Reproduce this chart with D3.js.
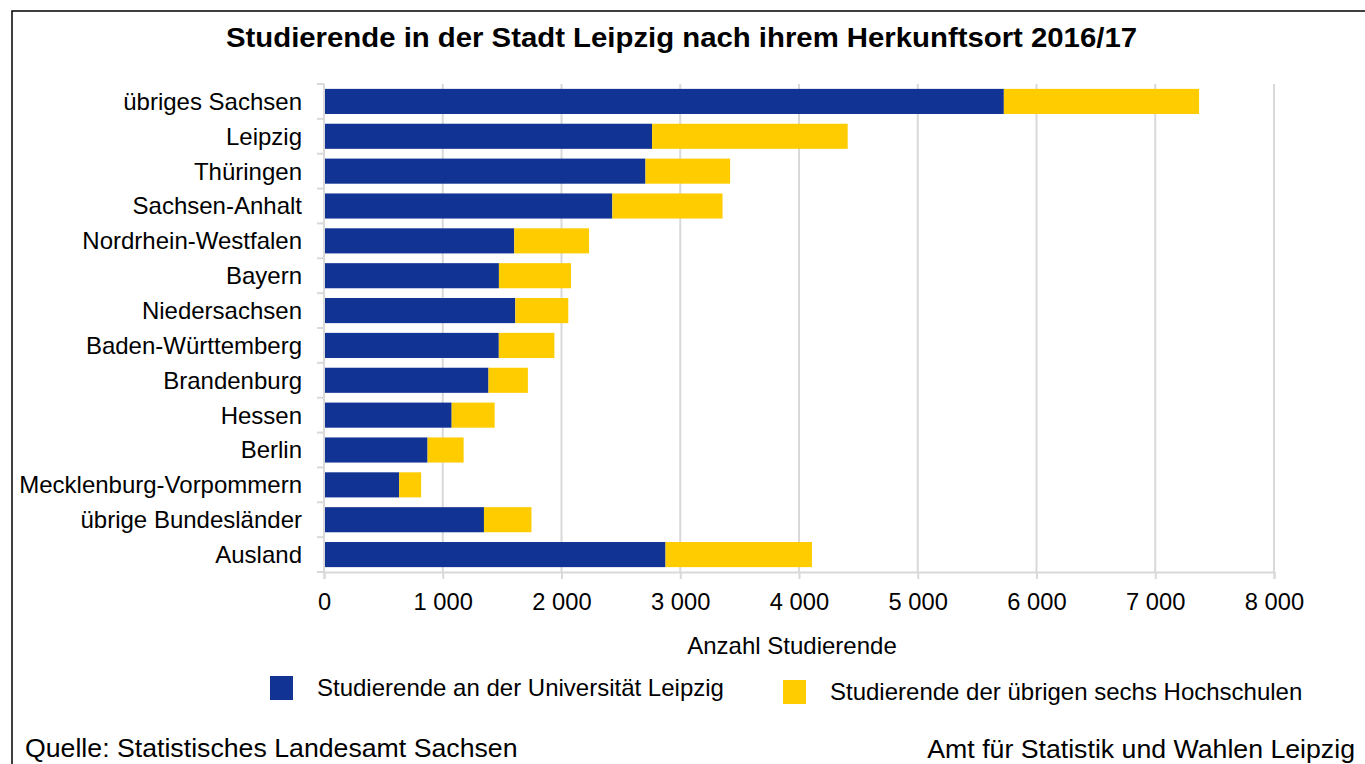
<!DOCTYPE html>
<html>
<head>
<meta charset="utf-8">
<script src="https://cdn.jsdelivr.net/npm/d3@7"></script>
<style>
  body { margin: 0; background: #fff; }
  svg text { font-family: "Liberation Sans", Arial, sans-serif; fill: #000; }
</style>
</head>
<body>
<div class="chart"></div>
<script>
const w = 1365;
const h = 764;

const regions = ["übriges Sachsen", "Leipzig", "Thüringen", "Sachsen-Anhalt", "Nordrhein-Westfalen",
  "Bayern", "Niedersachsen", "Baden-Württemberg", "Brandenburg", "Hessen", "Berlin",
  "Mecklenburg-Vorpommern", "übrige Bundesländer", "Ausland"];
const uniLeipzig = [5725, 2763, 2707, 2428, 1602, 1473, 1611, 1472, 1385, 1075, 872, 633, 1347, 2876];
const otherSchools = [1644, 1647, 713, 928, 630, 607, 446, 468, 332, 362, 304, 185, 400, 1233];
const xTicks = [0, 1000, 2000, 3000, 4000, 5000, 6000, 7000, 8000];
const seriesNames = ["Studierende an der Universität Leipzig", "Studierende der übrigen sechs Hochschulen"];
const colors = ["#103394", "#ffcc00"];

const margin = {left: 324, right: 91, top: 84, bottom: 192};

const svg = d3.select(".chart")
  .append("svg")
  .attr("width", w)
  .attr("height", h);

// frame
svg.append("path")
  .attr("d", `M12,${h + 2} L12,11 L${w + 2},11`)
  .attr("fill", "none")
  .attr("stroke", "#000")
  .attr("stroke-width", 1.5);

svg.append("text")
  .attr("x", 226)
  .attr("y", 47)
  .attr("textLength", 911)
  .attr("lengthAdjust", "spacingAndGlyphs")
  .style("font-size", "28px")
  .style("font-weight", "bold")
  .text("Studierende in der Stadt Leipzig nach ihrem Herkunftsort 2016/17");

const rows = regions.map((r, i) => ({region: r, uni: uniLeipzig[i], other: otherSchools[i]}));
const stacked = d3.stack().keys(["uni", "other"])(rows);

const x = d3.scaleLinear()
  .domain([0, 8000])
  .range([margin.left, w - margin.right]);

const y = d3.scaleBand()
  .domain(regions)
  .range([margin.top, h - margin.bottom])
  .paddingInner(0.28)
  .paddingOuter(0.14);

const locale = d3.formatLocale({decimal: ",", thousands: " ", grouping: [3], currency: ["", " €"]});
const fmt = locale.format(",d");

// gridlines
svg.append("g")
  .selectAll("line")
  .data(xTicks.slice(1))
  .enter().append("line")
  .attr("x1", d => x(d))
  .attr("x2", d => x(d))
  .attr("y1", margin.top)
  .attr("y2", h - margin.bottom)
  .attr("stroke", "#d9d9d9")
  .attr("stroke-width", 2);

// bars
svg.append("g")
  .selectAll("g")
  .data(stacked)
  .enter().append("g")
  .attr("fill", (d, i) => colors[i])
  .selectAll("rect")
  .data(d => d)
  .enter().append("rect")
  .attr("x", d => x(d[0]))
  .attr("y", d => y(d.data.region))
  .attr("width", d => x(d[1]) - x(d[0]))
  .attr("height", y.bandwidth());

// x axis
const xAxis = svg.append("g")
  .attr("transform", `translate(0,${h - margin.bottom})`)
  .call(d3.axisBottom(x).tickValues(xTicks).tickFormat(fmt).tickSize(7).tickPadding(14));
xAxis.select(".domain").attr("stroke", "#d9d9d9").attr("stroke-width", 2);
xAxis.selectAll(".tick line").attr("stroke", "#d9d9d9").attr("stroke-width", 2);
xAxis.selectAll(".tick text")
  .style("font-size", "23.7px")
  .style("font-family", "Liberation Sans, Arial, sans-serif")
  .attr("fill", "#000");

// y axis: line with ticks at category boundaries
const bounds = regions.map(r => y(r) - y.step() * y.paddingInner() / 2).concat([h - margin.bottom]);
svg.append("line")
  .attr("x1", margin.left).attr("x2", margin.left)
  .attr("y1", margin.top).attr("y2", h - margin.bottom)
  .attr("stroke", "#d9d9d9").attr("stroke-width", 2);
svg.append("g")
  .selectAll("line")
  .data(bounds)
  .enter().append("line")
  .attr("x1", margin.left - 7).attr("x2", margin.left)
  .attr("y1", d => d).attr("y2", d => d)
  .attr("stroke", "#d9d9d9").attr("stroke-width", 2);

svg.append("g")
  .selectAll("text")
  .data(regions)
  .enter().append("text")
  .attr("x", 302)
  .attr("y", d => y(d) + y.bandwidth() / 2)
  .attr("dy", "0.35em")
  .attr("text-anchor", "end")
  .style("font-size", "24px")
  .text(d => d);

svg.append("text")
  .attr("x", 792)
  .attr("y", 654)
  .attr("text-anchor", "middle")
  .style("font-size", "24px")
  .text("Anzahl Studierende");

// legend
const legendX = [270, 783];
const legendY = [676, 680];
const legend = svg.append("g")
  .selectAll("g")
  .data(seriesNames)
  .enter().append("g")
  .attr("transform", (d, i) => `translate(${legendX[i]},${legendY[i]})`);
legend.append("rect")
  .attr("width", 23)
  .attr("height", 24)
  .attr("fill", (d, i) => colors[i]);
legend.append("text")
  .attr("x", 47)
  .attr("y", 20)
  .style("font-size", "24px")
  .text(d => d);

// footer
svg.append("text")
  .attr("x", 25)
  .attr("y", 757)
  .style("font-size", "26.7px")
  .text("Quelle: Statistisches Landesamt Sachsen");

svg.append("text")
  .attr("x", 1355)
  .attr("y", 758)
  .attr("text-anchor", "end")
  .style("font-size", "26.7px")
  .text("Amt für Statistik und Wahlen Leipzig");
</script>
</body>
</html>
